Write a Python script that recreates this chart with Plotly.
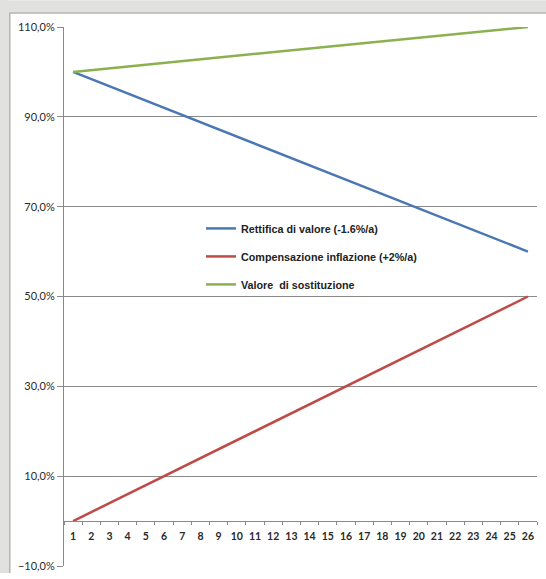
import plotly.graph_objects as go

# Years of the depreciation period
anni = list(range(1, 27))

# Residual value after the yearly write-down (-1.6% per year)
rettifica = [100.0, 98.4, 96.8, 95.2, 93.6, 92.0, 90.4, 88.8, 87.2, 85.6, 84.0, 82.4, 80.8,
             79.2, 77.6, 76.0, 74.4, 72.8, 71.2, 69.6, 68.0, 66.4, 64.8, 63.2, 61.6, 60.0]

# Inflation compensation (+2% per year)
compensazione = [0, 2, 4, 6, 8, 10, 12, 14, 16, 18, 20, 22, 24,
                 26, 28, 30, 32, 34, 36, 38, 40, 42, 44, 46, 48, 50]

# Replacement value (sum of the two)
sostituzione = [100.0, 100.4, 100.8, 101.2, 101.6, 102.0, 102.4, 102.8, 103.2, 103.6, 104.0, 104.4, 104.8,
                105.2, 105.6, 106.0, 106.4, 106.8, 107.2, 107.6, 108.0, 108.4, 108.8, 109.2, 109.6, 110.0]

nomi = ["Rettifica di valore (-1.6%/a)",
        "Compensazione inflazione (+2%/a)",
        "Valore\u00a0 di sostituzione"]
colori = ["#4A78B5", "#BE4B48", "#8BB14F"]

Y_MIN, Y_MAX = -10, 110
W, H = 546, 579
L, R, T, B = 64, 9, 27, 7

fig = go.Figure()
for nome, serie, col in zip(nomi, [rettifica, compensazione, sostituzione], colori):
    fig.add_trace(go.Scatter(
        x=[str(a) for a in anni], y=serie, mode="lines", name=nome, legendgroup=nome,
        line=dict(color=col, width=2.5),
    ))

axis_grey = "#8A8A8A"
label_family = "Lato, 'Liberation Sans', sans-serif"

pw, ph = W - L - R, H - T - B
def px_x(v):
    return (v - L) / pw
def px_y(v):
    return 1 - (v - T) / ph

fig.update_layout(
    width=W, height=H,
    margin=dict(l=L, r=R, t=T, b=B),
    paper_bgcolor="white",
    plot_bgcolor="white",
    separators=",.",
    showlegend=True,
    legend=dict(
        x=px_x(201), y=px_y(216),
        xanchor="left", yanchor="top",
        bgcolor="rgba(255,255,255,0)",
        font=dict(family="'Liberation Sans', Arial, sans-serif", size=10.75, color="#222222", weight="bold"),
        tracegroupgap=9,
        itemwidth=30,
    ),
    xaxis=dict(
        type="category",
        range=[-0.5, len(anni) - 0.5],
        anchor="free",
        position=(0 - Y_MIN) / (Y_MAX - Y_MIN),
        showline=True, linecolor=axis_grey, linewidth=1,
        showgrid=False, zeroline=False,
        ticks="outside", ticklen=3, tickcolor=axis_grey,
        tickson="boundaries",
        tickangle=0,
        ticklabelstandoff=5,
        tickfont=dict(family=label_family, size=10.5, color="#2A2A2A", weight="bold"),
    ),
    yaxis=dict(
        range=[Y_MIN, Y_MAX],
        tick0=Y_MIN, dtick=20,
        tickformat=".1f", ticksuffix="%",
        showline=True, linecolor=axis_grey, linewidth=1,
        showgrid=True, gridcolor=axis_grey, gridwidth=1,
        zeroline=False,
        ticks="outside", ticklen=6, tickcolor=axis_grey,
        tickfont=dict(family=label_family, size=11, color="#2A2A2A"),
    ),
)

# Grey window strips along the top and left edges, with a darker frame line
band = "#E1E1DF"
frame = "#B4B4B2"
fig.add_shape(type="rect", xref="paper", yref="paper", layer="below",
              x0=px_x(0), x1=px_x(W), y0=px_y(12.5), y1=px_y(0),
              fillcolor=band, line=dict(width=0))
fig.add_shape(type="rect", xref="paper", yref="paper", layer="below",
              x0=px_x(0), x1=px_x(9.5), y0=px_y(H), y1=px_y(0),
              fillcolor=band, line=dict(width=0))
fig.add_shape(type="line", xref="paper", yref="paper", layer="below",
              x0=px_x(9.5), x1=px_x(W), y0=px_y(12.8), y1=px_y(12.8),
              line=dict(color=frame, width=1.5))
fig.add_shape(type="line", xref="paper", yref="paper", layer="below",
              x0=px_x(9.8), x1=px_x(9.8), y0=px_y(H), y1=px_y(12.5),
              line=dict(color=frame, width=1.5))

fig.write_html("out.html")
